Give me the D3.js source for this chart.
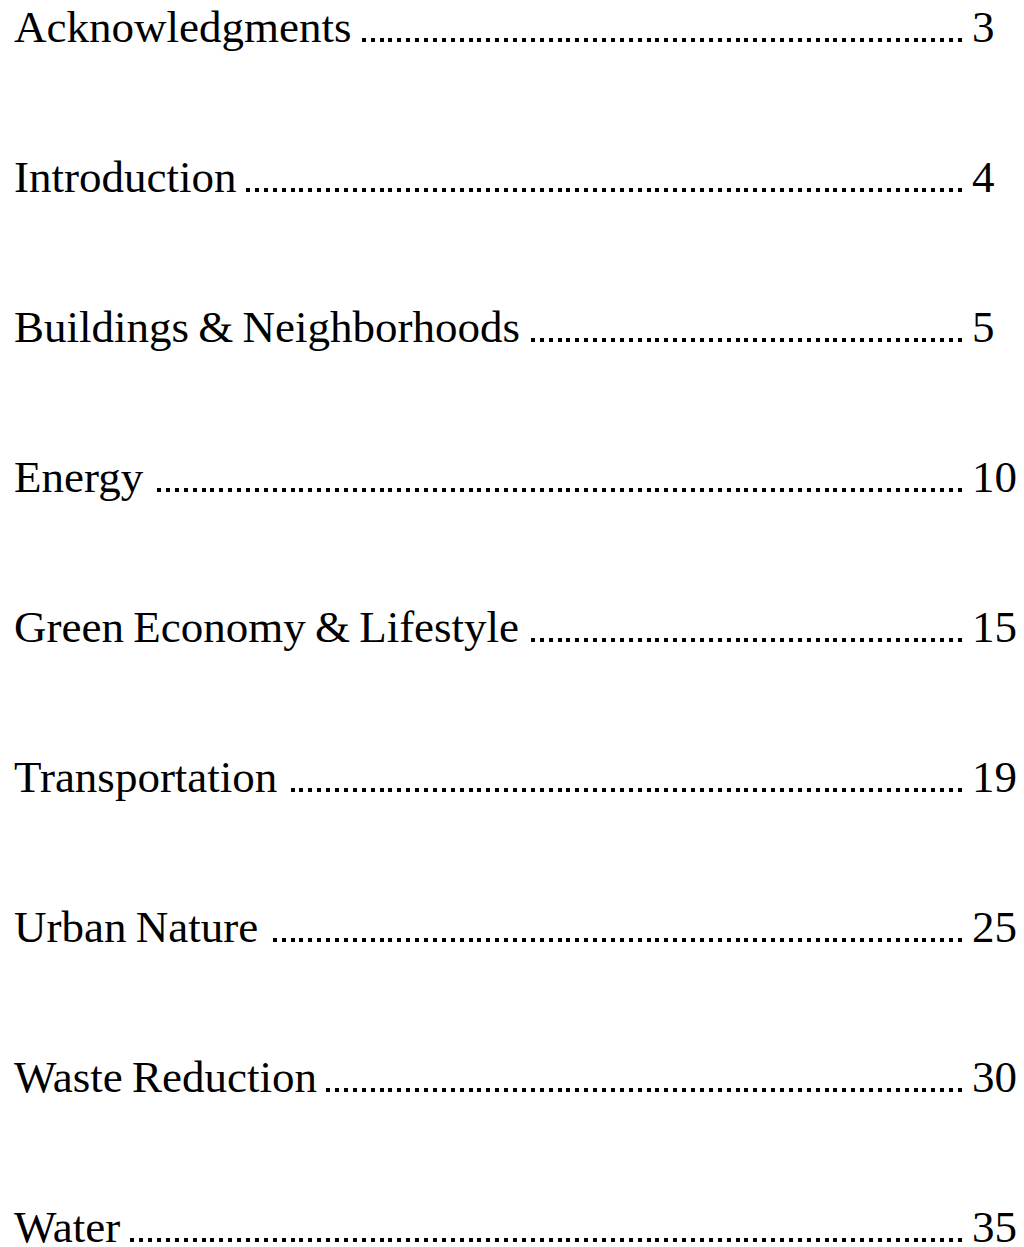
<!DOCTYPE html>
<html>
<head>
<meta charset="utf-8">
<script src="https://cdn.jsdelivr.net/npm/d3@7"></script>
<style>
  html, body { margin: 0; padding: 0; background: #fff; }
  text { font-family: "Liberation Serif", "DejaVu Serif", serif; fill: #000; }
</style>
</head>
<body>
<div id="toc"></div>
<script>
/* toc.js — table of contents drawn with D3 */

const sections = [
  "Acknowledgments", "Introduction", "Buildings & Neighborhoods", "Energy",
  "Green Economy & Lifestyle", "Transportation", "Urban Nature",
  "Waste Reduction", "Water",
];
const pages = [3, 4, 5, 10, 15, 19, 25, 30, 35];

const W = 1024, H = 1247;
const FONT = 45;
const LEFT = 14, DOT_END = 962, NUM_X = 972;
const DOT = 4, STEP = 8.9;

const svg = d3.select("#toc").append("svg")
  .attr("width", W).attr("height", H);

svg.append("rect").attr("width", W).attr("height", H).attr("fill", "#fff");

const y = d3.scalePoint().domain(sections).range([42, 1242]);

const rows = svg.append("g").selectAll("g")
  .data(sections.map((s, i) => ({ title: s, page: pages[i] })))
  .join("g")
  .attr("transform", d => `translate(0,${y(d.title)})`);

const titles = rows.append("text")
  .attr("x", LEFT)
  .attr("font-size", FONT)
  .attr("word-spacing", -2)
  .text(d => d.title);

rows.append("text")
  .attr("x", NUM_X)
  .attr("font-size", FONT)
  .text(d => d.page);

// Dot leaders, laid out from the right end like a tab leader
titles.each(function () {
  const bb = this.getBBox();
  const start = bb.x + bb.width + 6;
  const n = Math.floor((DOT_END - DOT - start) / STEP) + 1;
  d3.select(this.parentNode).insert("g", "text")
    .attr("shape-rendering", "crispEdges")
    .selectAll("rect")
    .data(d3.range(n))
    .join("rect")
    .attr("x", i => Math.round(DOT_END - DOT - i * STEP))
    .attr("y", -DOT)
    .attr("width", DOT).attr("height", DOT)
    .attr("fill", "#000");
});
</script>
</body>
</html>
